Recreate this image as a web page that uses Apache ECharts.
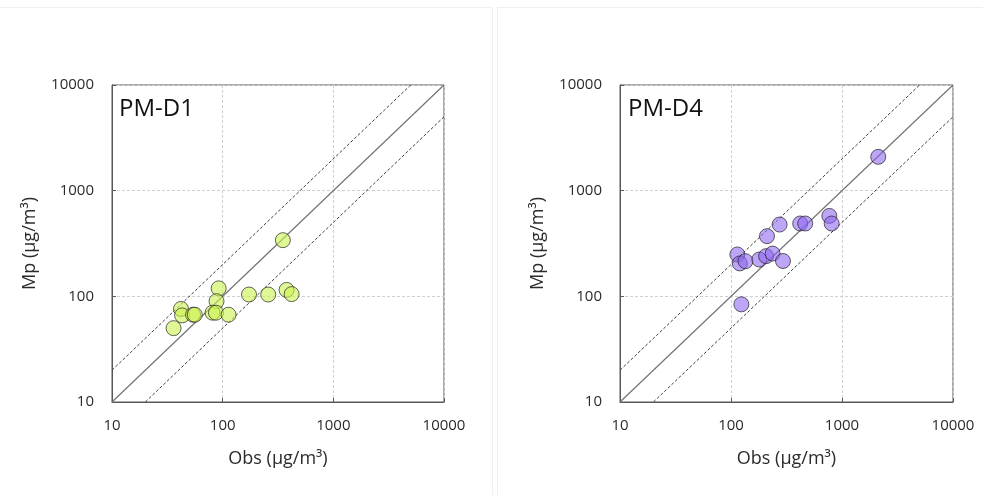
<!DOCTYPE html>
<html>
<head>
<meta charset="utf-8">
<script src="https://cdn.jsdelivr.net/npm/echarts@6/dist/echarts.min.js"></script>
<style>
html,body{margin:0;padding:0;background:#fff;}
#c{width:983px;height:495px;}
</style>
</head>
<body>
<div id="c"></div>
<script>
// Axis ticks (log scale)
const axisMin = 10;
const axisMax = 10000;
// Panel titles
const panelTitles = ['PM-D1', 'PM-D4'];
const xName = 'Obs (µg/m³)';
const yName = 'Mp (µg/m³)';
// PM-D1 series
const obsD1 = [350, 92, 88, 173, 258, 378, 420, 42, 43, 54, 56, 81, 87, 113, 36];
const mpD1  = [340, 119, 90, 104, 104, 115, 105, 76, 66, 67, 67, 70, 70, 67, 50];
// PM-D4 series
const obsD4 = [2120, 769, 807, 420, 466, 274, 211, 114, 120, 135, 180, 207, 237, 294, 124];
const mpD4  = [2090, 577, 489, 489, 489, 478, 371, 249, 205, 215, 223, 240, 254, 216, 84];
// Reference lines: 1:1, 2:1, 1:2
const line11 = [[10, 10], [10000, 10000]];
const line21 = [[10, 20], [5000, 10000]];
const line12 = [[20, 10], [10000, 5000]];

const FONT = '"Open Sans", "Noto Sans", sans-serif';
const TXT = '#2b2b2b';

function zip(a, b) { return a.map((v, i) => [v, b[i]]); }

function xAxis(gi) {
  return {
    type: 'log', logBase: 10, min: axisMin, max: axisMax, gridIndex: gi,
    name: xName, nameLocation: 'middle', nameGap: 48,
    nameTextStyle: { fontSize: 18, color: TXT, fontFamily: FONT },
    axisLine: { show: true, lineStyle: { color: '#595959', width: 1 } },
    axisTick: { show: true, inside: true, length: 4, lineStyle: { color: '#595959' } },
    axisLabel: { fontSize: 15, color: TXT, fontFamily: FONT, margin: 16,
      formatter: v => String(Math.round(v)) },
    splitLine: { show: true, lineStyle: { color: '#d0d0d0', type: [3, 2], width: 1 } },
    minorTick: { show: false }
  };
}
function yAxis(gi) {
  return {
    type: 'log', logBase: 10, min: axisMin, max: axisMax, gridIndex: gi,
    name: yName, nameLocation: 'middle', nameGap: 73, nameRotate: 90,
    nameTextStyle: { fontSize: 18, color: TXT, fontFamily: FONT },
    axisLine: { show: true, lineStyle: { color: '#595959', width: 1 } },
    axisTick: { show: true, inside: true, length: 4, lineStyle: { color: '#595959' } },
    axisLabel: { fontSize: 15, color: TXT, fontFamily: FONT, margin: 18,
      formatter: v => String(Math.round(v)) },
    splitLine: { show: true, lineStyle: { color: '#d0d0d0', type: [3, 2], width: 1 } }
  };
}
function refSeries(gi) {
  const base = { type: 'line', xAxisIndex: gi, yAxisIndex: gi, symbol: 'none', silent: true, z: 2, animation: false };
  return [
    Object.assign({}, base, { data: line11, lineStyle: { color: '#737373', width: 1.2 } }),
    Object.assign({}, base, { data: line21, lineStyle: { color: '#404040', width: 1, type: [3, 2] } }),
    Object.assign({}, base, { data: line12, lineStyle: { color: '#404040', width: 1, type: [3, 2] } })
  ];
}
function scatter(gi, data, color) {
  return { type: 'scatter', xAxisIndex: gi, yAxisIndex: gi, data: data, symbolSize: 15, z: 5,
    animation: false,
    itemStyle: { color: color, borderColor: 'rgba(30,30,30,0.85)', borderWidth: 1 } };
}

const chart = echarts.init(document.getElementById('c'), null, { renderer: 'canvas' });
chart.setOption({
  backgroundColor: '#ffffff',
  animation: false,
  grid: [
    { left: 112, top: 85, width: 332, height: 317, show: true, borderColor: '#595959', borderWidth: 1 },
    { left: 620, top: 85, width: 333, height: 317, show: true, borderColor: '#595959', borderWidth: 1 }
  ],
  xAxis: [xAxis(0), xAxis(1)],
  yAxis: [yAxis(0), yAxis(1)],
  graphic: [
    { type: 'line', shape: { x1: 0, y1: 7.5, x2: 492, y2: 7.5 }, style: { stroke: '#f0f0f0', lineWidth: 1 }, silent: true },
    { type: 'line', shape: { x1: 492.5, y1: 7, x2: 492.5, y2: 495 }, style: { stroke: '#f0f0f0', lineWidth: 1 }, silent: true },
    { type: 'line', shape: { x1: 497.5, y1: 7, x2: 497.5, y2: 495 }, style: { stroke: '#f0f0f0', lineWidth: 1 }, silent: true },
    { type: 'line', shape: { x1: 497, y1: 7.5, x2: 983, y2: 7.5 }, style: { stroke: '#f0f0f0', lineWidth: 1 }, silent: true },
    { type: 'text', left: 119, top: 97, z: 10, style: { text: panelTitles[0], fontSize: 24, fill: '#111', fontFamily: FONT } },
    { type: 'text', left: 628, top: 97, z: 10, style: { text: panelTitles[1], fontSize: 24, fill: '#111', fontFamily: FONT } }
  ],
  series: [].concat(
    refSeries(0), refSeries(1),
    [scatter(0, zip(obsD1, mpD1), 'rgba(204,242,80,0.75)'),
     scatter(1, zip(obsD4, mpD4), 'rgba(140,100,240,0.72)')]
  )
});
</script>
</body>
</html>
